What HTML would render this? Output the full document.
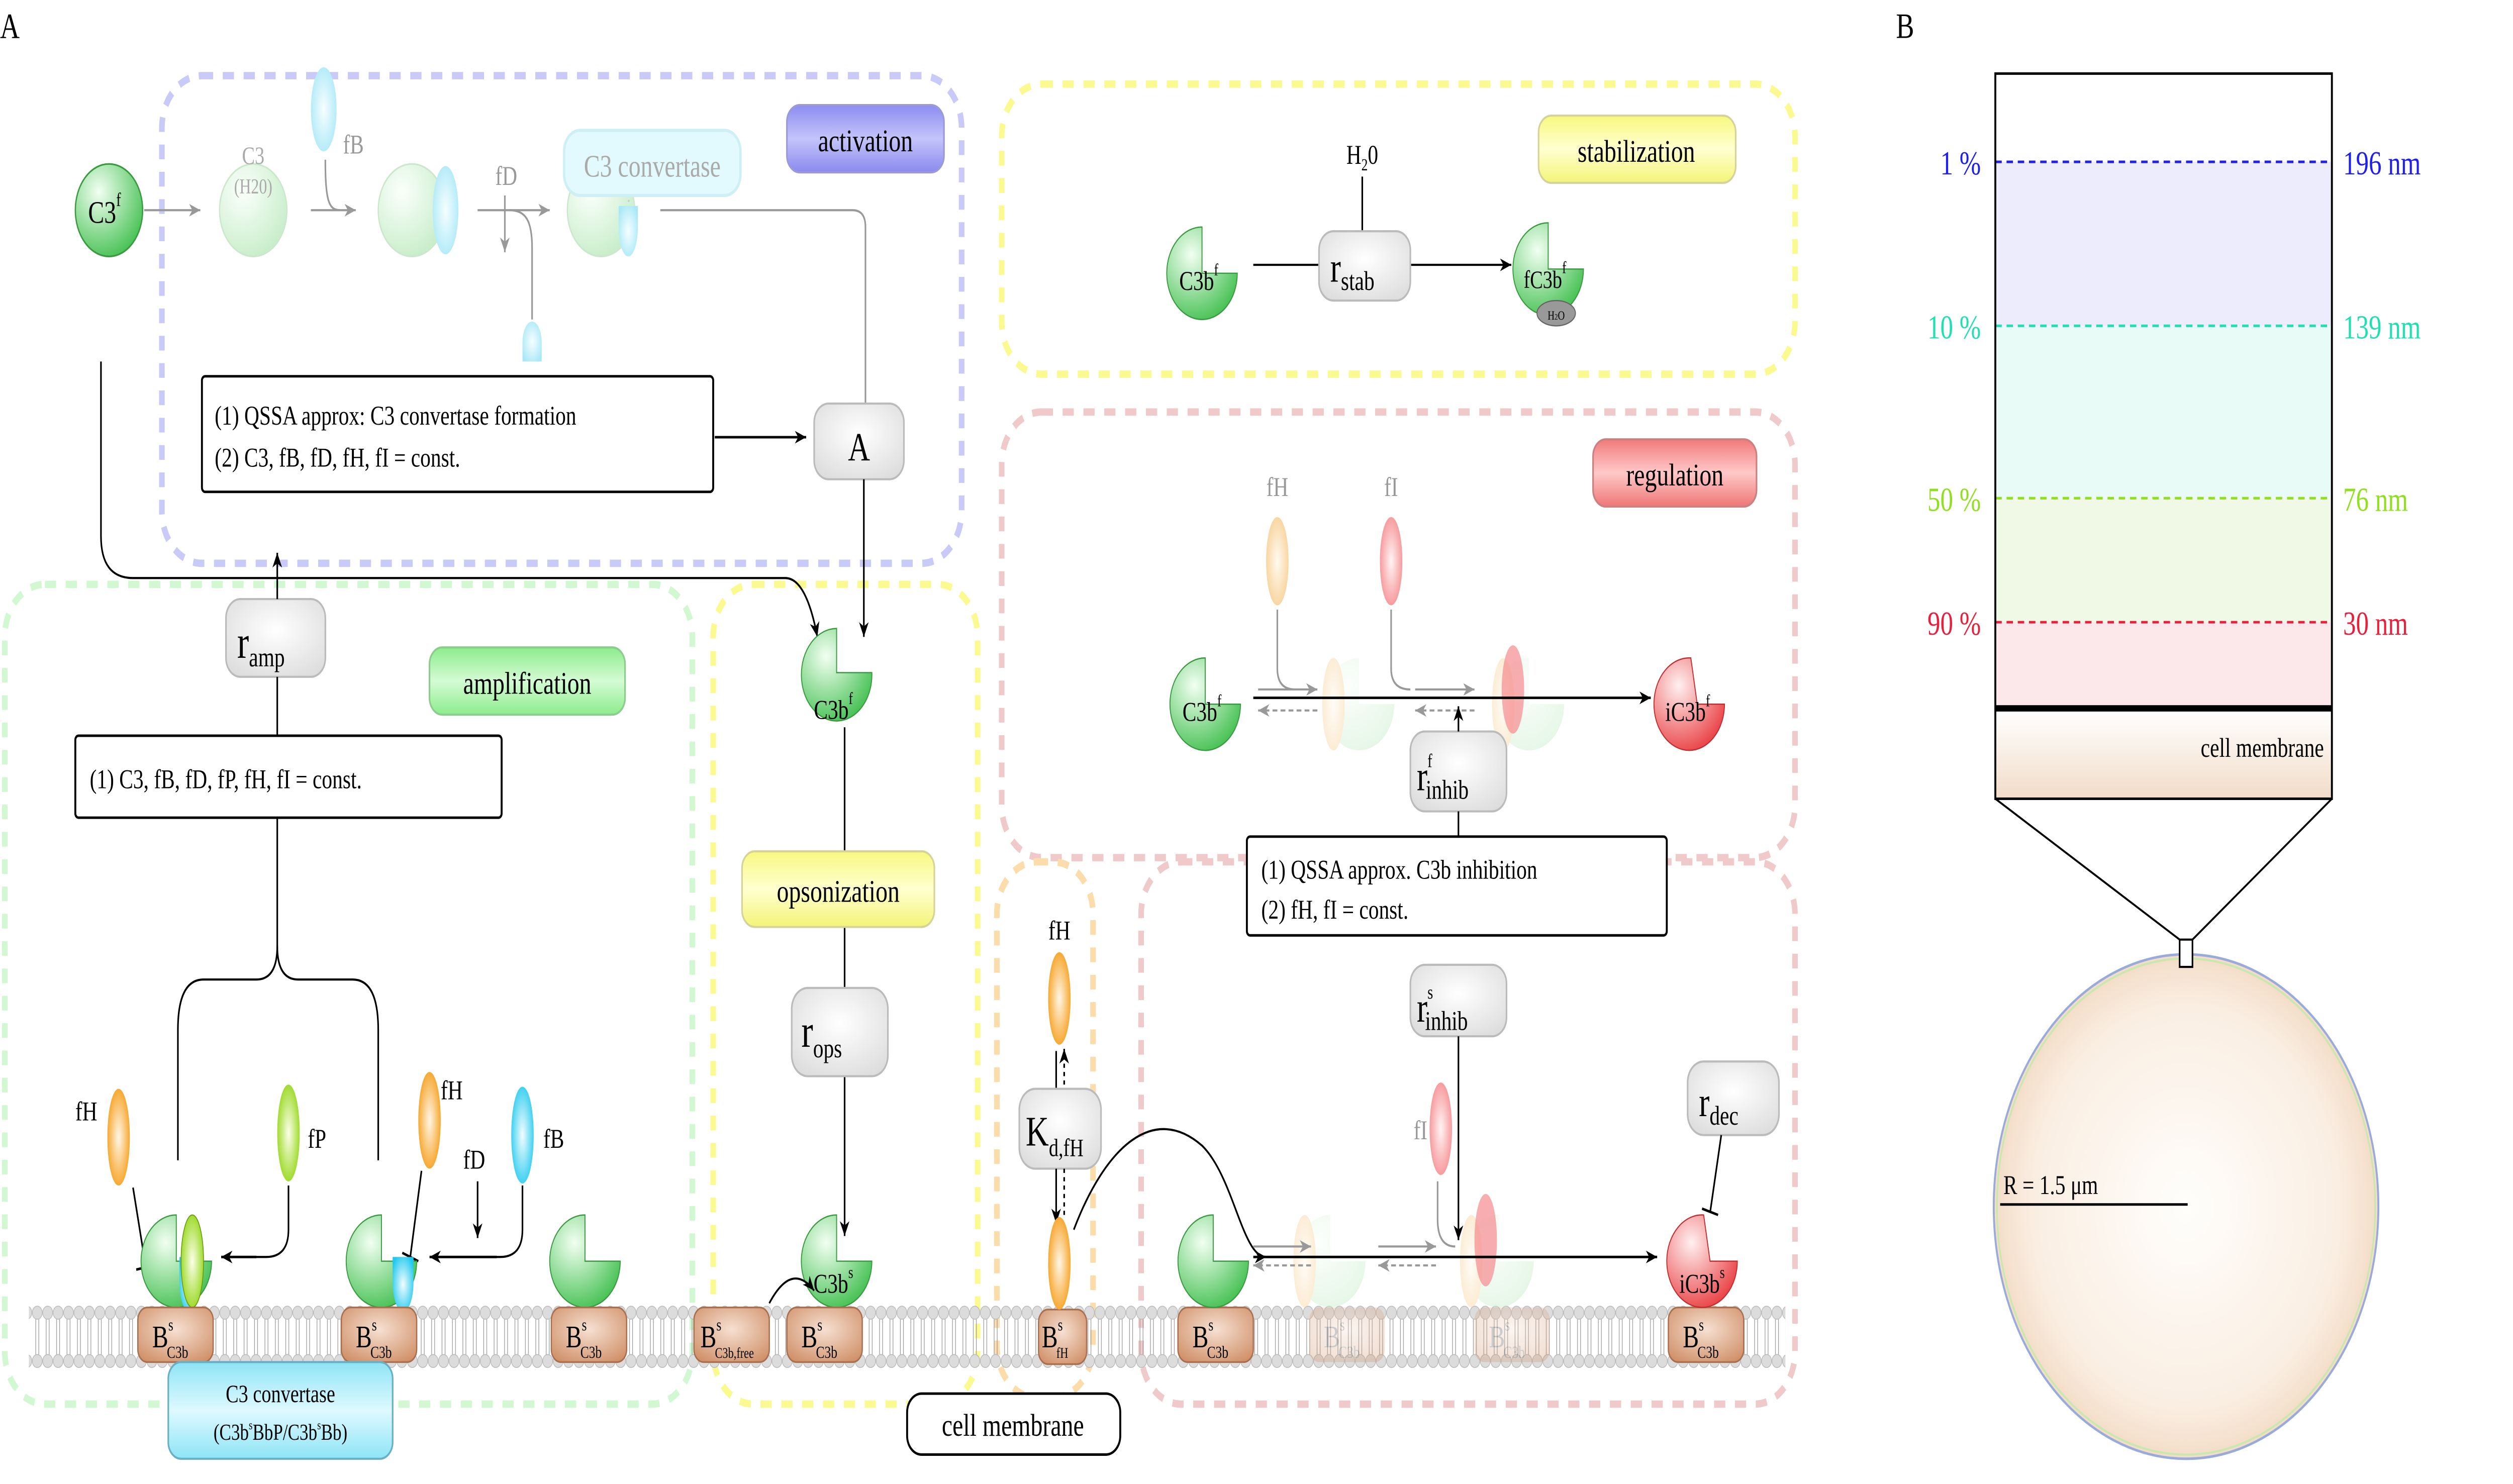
<!DOCTYPE html>
<html><head><meta charset="utf-8"><style>
html,body{margin:0;padding:0;background:#fff;overflow:hidden;width:100%;height:100%;}
svg{display:block;position:absolute;left:0;top:0;width:100vw;height:100vh;}
text{font-family:"Liberation Serif",serif;}
</style></head><body>
<svg viewBox="0 0 1568 706" preserveAspectRatio="none" xmlns="http://www.w3.org/2000/svg">
<defs>
<radialGradient id="gG" cx="0.35" cy="0.3" r="0.8"><stop offset="0" stop-color="#f2fff2"/><stop offset="1" stop-color="#3cbd4a"/></radialGradient>
<radialGradient id="gL" cx="0.35" cy="0.3" r="0.8"><stop offset="0" stop-color="#fbfffb"/><stop offset="1" stop-color="#c4ecc6"/></radialGradient>
<radialGradient id="gO" cx="0.5" cy="0.5" r="0.6"><stop offset="0" stop-color="#fff6e6"/><stop offset="1" stop-color="#f59a10"/></radialGradient>
<radialGradient id="gOf" cx="0.5" cy="0.5" r="0.6"><stop offset="0" stop-color="#fffaf0"/><stop offset="1" stop-color="#f7cf92"/></radialGradient>
<radialGradient id="gP" cx="0.5" cy="0.5" r="0.6"><stop offset="0" stop-color="#fbffe8"/><stop offset="1" stop-color="#8fd40c"/></radialGradient>
<radialGradient id="gC" cx="0.5" cy="0.5" r="0.6"><stop offset="0" stop-color="#f2fdff"/><stop offset="1" stop-color="#1ec8ee"/></radialGradient>
<radialGradient id="gCf" cx="0.5" cy="0.5" r="0.6"><stop offset="0" stop-color="#f6feff"/><stop offset="1" stop-color="#a8e8f7"/></radialGradient>
<radialGradient id="gR" cx="0.35" cy="0.3" r="0.8"><stop offset="0" stop-color="#fff0f0"/><stop offset="1" stop-color="#e8383c"/></radialGradient>
<radialGradient id="gRl" cx="0.5" cy="0.5" r="0.6"><stop offset="0" stop-color="#fff4f4"/><stop offset="1" stop-color="#f58a8e"/></radialGradient>
<radialGradient id="gBr" cx="0.5" cy="0.4" r="0.7"><stop offset="0" stop-color="#f6e0d2"/><stop offset="1" stop-color="#d09068"/></radialGradient>
<radialGradient id="gBox" cx="0.5" cy="0.4" r="0.7"><stop offset="0" stop-color="#ffffff"/><stop offset="1" stop-color="#dcdcdc"/></radialGradient>
<linearGradient id="gAct" x1="0" y1="0" x2="0" y2="1"><stop offset="0" stop-color="#8c8cf0"/><stop offset="0.5" stop-color="#c4c4fb"/><stop offset="1" stop-color="#8a8aee"/></linearGradient>
<linearGradient id="gAmp" x1="0" y1="0" x2="0" y2="1"><stop offset="0" stop-color="#8cec8c"/><stop offset="0.5" stop-color="#d4fbd4"/><stop offset="1" stop-color="#8cec8c"/></linearGradient>
<linearGradient id="gYel" x1="0" y1="0" x2="0" y2="1"><stop offset="0" stop-color="#f8f880"/><stop offset="0.5" stop-color="#ffffd0"/><stop offset="1" stop-color="#f4f478"/></linearGradient>
<linearGradient id="gReg" x1="0" y1="0" x2="0" y2="1"><stop offset="0" stop-color="#f07a7a"/><stop offset="0.5" stop-color="#ffc8c8"/><stop offset="1" stop-color="#ee7676"/></linearGradient>
<linearGradient id="gConv" x1="0" y1="0" x2="0" y2="1"><stop offset="0" stop-color="#8ee4f6"/><stop offset="0.5" stop-color="#dff9ff"/><stop offset="1" stop-color="#8ee4f6"/></linearGradient>
<linearGradient id="gMem" x1="0" y1="0" x2="0" y2="1"><stop offset="0" stop-color="#ffffff"/><stop offset="1" stop-color="#f1dcc8"/></linearGradient>
<radialGradient id="gCell" cx="0.5" cy="0.5" r="0.5"><stop offset="0" stop-color="#fffefc"/><stop offset="0.8" stop-color="#faeee2"/><stop offset="1" stop-color="#f3dcc6"/></radialGradient>
<pattern id="mem" patternUnits="userSpaceOnUse" x="20" y="621" width="6.5" height="30">
<line x1="2.3" y1="6" x2="2.3" y2="24" stroke="#999" stroke-width="0.4"/><line x1="4.2" y1="6" x2="4.2" y2="24" stroke="#999" stroke-width="0.4"/>
<circle cx="3.25" cy="3.5" r="3.1" fill="#dcdcdc" stroke="#bbb" stroke-width="0.4"/>
<circle cx="3.25" cy="26.5" r="3.1" fill="#dcdcdc" stroke="#bbb" stroke-width="0.4"/>
</pattern>
<marker id="ab" markerWidth="8" markerHeight="8" refX="7" refY="4" orient="auto" markerUnits="userSpaceOnUse"><path d="M0,1 L7,4 L0,7 L2,4Z" fill="#000"/></marker>
<marker id="ag" markerWidth="8" markerHeight="8" refX="7" refY="4" orient="auto" markerUnits="userSpaceOnUse"><path d="M0,1 L7,4 L0,7 L2,4Z" fill="#999"/></marker>
</defs>

<text x="0" y="18" font-family="Liberation Sans" font-size="17">A</text>
<text x="1183" y="18" font-family="Liberation Sans" font-size="17">B</text>

<g fill="none" stroke-width="3.5" stroke-dasharray="7,6">
<rect x="101" y="36" width="499" height="232" rx="25" stroke="#cacaf8"/>
<rect x="625" y="40" width="495" height="138" rx="25" stroke="#fafa90"/>
<rect x="625" y="196" width="495" height="212" rx="25" stroke="#f0caca"/>
<rect x="3" y="278" width="429" height="390" rx="25" stroke="#d2f8d2"/>
<rect x="445" y="278" width="165" height="390" rx="25" stroke="#fafa90"/>
<rect x="622" y="410" width="60" height="255" rx="25" stroke="#fbdcaa"/>
<rect x="712" y="410" width="408" height="258" rx="25" stroke="#f0caca"/>
</g>

<rect x="18" y="621" width="1096" height="30" fill="url(#mem)"/>

<ellipse cx="68" cy="100" rx="21" ry="22" fill="url(#gG)" stroke="#3a9a40" stroke-width="0.8"/>
<text x="55" y="106" font-size="15">C3<tspan font-size="9" dy="-8">f</tspan></text>
<line x1="90" y1="100" x2="125" y2="100" stroke="#999" stroke-width="1" marker-end="url(#ag)"/>
<ellipse cx="158" cy="100" rx="21" ry="22" fill="url(#gL)" stroke="#cce8cc" stroke-width="0.8"/>
<text x="158" y="78" font-size="12" fill="#aaa" text-anchor="middle">C3</text>
<text x="158" y="92" font-size="10" fill="#aaa" text-anchor="middle">(H20)</text>
<ellipse cx="202" cy="52" rx="8" ry="20" fill="url(#gCf)"/>
<text x="214" y="73" font-size="13" fill="#999">fB</text>
<path d="M203,76 C203,95 205,100 212,100" fill="none" stroke="#999" stroke-width="1"/>
<line x1="194" y1="100" x2="222" y2="100" stroke="#999" stroke-width="1" marker-end="url(#ag)"/>
<ellipse cx="257" cy="100" rx="21" ry="22" fill="url(#gL)" stroke="#cce8cc" stroke-width="0.8"/>
<ellipse cx="278" cy="100" rx="8" ry="21" fill="url(#gCf)"/>
<line x1="298" y1="100" x2="343" y2="100" stroke="#999" stroke-width="1" marker-end="url(#ag)"/>
<text x="309" y="88" font-size="13" fill="#999">fD</text>
<line x1="315" y1="93" x2="315" y2="120" stroke="#999" stroke-width="1" marker-end="url(#ag)"/>
<path d="M318,100 C328,100 332,105 332,118 L332,152" fill="none" stroke="#999" stroke-width="1"/>
<path d="M326,172 L326,163 A6,10 0 0 1 338,163 L338,172Z" fill="url(#gCf)"/>
<ellipse cx="375" cy="100" rx="21" ry="22" fill="url(#gL)" stroke="#cce8cc" stroke-width="0.8"/>
<path d="M386,98 L398,98 L398,108 A6,14 0 0 1 386,108Z" fill="url(#gCf)"/>
<line x1="392" y1="96" x2="402" y2="80" stroke="#ccc" stroke-dasharray="1,2"/>
<rect x="352" y="62" width="110" height="31" rx="10" fill="#e2f9fd" stroke="#cfeff6" stroke-width="1.5"/>
<text x="407" y="84" font-size="15" fill="#aaa" text-anchor="middle">C3 convertase</text>
<path d="M412,100 L532,100 Q540,100 540,108 L540,193" fill="none" stroke="#999" stroke-width="1"/>
<rect x="491" y="50" width="98" height="32" rx="8" fill="url(#gAct)" stroke="#9a9ad8" stroke-width="1"/>
<text x="540" y="72" font-size="15" text-anchor="middle">activation</text>
<rect x="126" y="179" width="319" height="55" rx="2" fill="#fff" stroke="#000" stroke-width="1.2"/>
<text x="134" y="202" font-size="13">(1) QSSA approx: C3 convertase formation</text>
<text x="134" y="222" font-size="13">(2) C3, fB, fD, fH, fI = const.</text>
<line x1="446" y1="208" x2="503" y2="208" stroke="#000" stroke-width="1.2" marker-end="url(#ab)"/>
<rect x="508" y="192" width="56" height="36" rx="9" fill="url(#gBox)" stroke="#bbb" stroke-width="1"/>
<text x="536" y="219" font-size="19" text-anchor="middle">A</text>
<line x1="539" y1="228" x2="539" y2="303" stroke="#000" stroke-width="1" marker-end="url(#ab)"/>
<path d="M63,172 L63,255 Q63,275 83,275 L490,275 Q503,275 510,303" fill="none" stroke="#000" stroke-width="1" marker-end="url(#ab)"/>

<path d="M522,299 L522,320 L544,320 A22,22 0 1 1 522,299Z" fill="url(#gG)" stroke="#3a9a40" stroke-width="0.6"/>
<text x="520" y="342" font-size="13" text-anchor="middle">C3b<tspan font-size="8" dy="-7">f</tspan></text>
<line x1="527" y1="346" x2="527" y2="588" stroke="#000" stroke-width="1" marker-end="url(#ab)"/>
<rect x="463" y="405" width="120" height="36" rx="8" fill="url(#gYel)" stroke="#d4d49a" stroke-width="1"/>
<text x="523" y="429" font-size="15" text-anchor="middle">opsonization</text>
<rect x="494" y="470" width="60" height="42" rx="10" fill="url(#gBox)" stroke="#bbb" stroke-width="1"/>
<text x="500" y="498" font-size="22">r<tspan font-size="13" dy="5">ops</tspan></text>
<path d="M522,578 L522,600 L544,600 A22,22 0 1 1 522,578Z" fill="url(#gG)" stroke="#3a9a40" stroke-width="0.6"/>
<text x="520" y="615" font-size="13" text-anchor="middle">C3b<tspan font-size="8" dy="-7">s</tspan></text>
<path d="M480,620 Q494,600 508,614" fill="none" stroke="#000" stroke-width="1" marker-end="url(#ab)"/>

<rect x="141" y="285" width="62" height="37" rx="9" fill="url(#gBox)" stroke="#bbb" stroke-width="1"/>
<text x="148" y="313" font-size="22">r<tspan font-size="13" dy="4">amp</tspan></text>
<line x1="173" y1="285" x2="173" y2="263" stroke="#000" stroke-width="1" marker-end="url(#ab)"/>
<line x1="173" y1="322" x2="173" y2="350" stroke="#000" stroke-width="1"/>
<rect x="47" y="350" width="266" height="39" rx="2" fill="#fff" stroke="#000" stroke-width="1.2"/>
<text x="56" y="375" font-size="13">(1) C3, fB, fD, fP, fH, fI = const.</text>
<path d="M173,389 L173,450 Q173,466 160,466 L127,466 Q111,466 111,490 L111,552" fill="none" stroke="#000" stroke-width="1"/>
<path d="M173,450 Q173,466 186,466 L220,466 Q236,466 236,490 L236,552" fill="none" stroke="#000" stroke-width="1"/>
<rect x="268" y="308" width="122" height="32" rx="8" fill="url(#gAmp)" stroke="#8ccc8c" stroke-width="1"/>
<text x="329" y="330" font-size="15" text-anchor="middle">amplification</text>
<ellipse cx="74" cy="541" rx="7" ry="23" fill="url(#gO)"/>
<text x="47" y="533" font-size="13">fH</text>
<line x1="83" y1="565" x2="91" y2="603" stroke="#000" stroke-width="1"/><line x1="85" y1="604" x2="96" y2="602" stroke="#000" stroke-width="1.2"/>
<ellipse cx="180" cy="539" rx="7" ry="23" fill="url(#gP)"/>
<text x="192" y="546" font-size="13">fP</text>
<path d="M180,564 L180,585 Q180,598 166,598 L140,598" fill="none" stroke="#000" stroke-width="1"/>
<line x1="160" y1="598" x2="138" y2="598" stroke="#000" stroke-width="1.2" marker-end="url(#ab)"/>
<ellipse cx="268" cy="533" rx="7" ry="23" fill="url(#gO)"/>
<text x="275" y="523" font-size="13">fH</text>
<line x1="263" y1="557" x2="256" y2="598" stroke="#000" stroke-width="1"/><line x1="251" y1="596" x2="261" y2="600" stroke="#000" stroke-width="1.2"/>
<ellipse cx="326" cy="540" rx="7" ry="23" fill="url(#gC)"/>
<text x="339" y="546" font-size="13">fB</text>
<text x="289" y="556" font-size="13">fD</text>
<line x1="298" y1="562" x2="298" y2="589" stroke="#000" stroke-width="1" marker-end="url(#ab)"/>
<path d="M326,564 L326,585 Q326,598 312,598 L270,598" fill="none" stroke="#000" stroke-width="1"/>
<line x1="310" y1="598" x2="268" y2="598" stroke="#000" stroke-width="1.2" marker-end="url(#ab)"/>
<path d="M110,578 L110,600 L132,600 A22,22 0 1 1 110,578Z" fill="url(#gG)" stroke="#3a9a40" stroke-width="0.6"/>
<path d="M112,598 L124,598 L124,610 A6,14 0 0 1 112,610Z" fill="url(#gC)"/>
<ellipse cx="120" cy="600" rx="7" ry="22" fill="url(#gP)" stroke="#6a9a10" stroke-width="0.5"/>
<path d="M238,578 L238,600 L260,600 A22,22 0 1 1 238,578Z" fill="url(#gG)" stroke="#3a9a40" stroke-width="0.6"/>
<path d="M245,598 L258,598 L258,610 A6.5,14 0 0 1 245,610Z" fill="url(#gC)"/>
<path d="M365,578 L365,600 L387,600 A22,22 0 1 1 365,578Z" fill="url(#gG)" stroke="#3a9a40" stroke-width="0.6"/>

<g font-size="15">
<rect x="86" y="622" width="47" height="26" rx="6" fill="url(#gBr)" stroke="#a87050" stroke-width="0.8"/>
<text x="95" y="641">B<tspan font-size="8" dy="-8">s</tspan><tspan font-size="8" dx="-4" dy="13">C3b</tspan></text>
<rect x="213" y="622" width="47" height="26" rx="6" fill="url(#gBr)" stroke="#a87050" stroke-width="0.8"/>
<text x="222" y="641">B<tspan font-size="8" dy="-8">s</tspan><tspan font-size="8" dx="-4" dy="13">C3b</tspan></text>
<rect x="344" y="622" width="47" height="26" rx="6" fill="url(#gBr)" stroke="#a87050" stroke-width="0.8"/>
<text x="353" y="641">B<tspan font-size="8" dy="-8">s</tspan><tspan font-size="8" dx="-4" dy="13">C3b</tspan></text>
<rect x="433" y="622" width="47" height="26" rx="6" fill="url(#gBr)" stroke="#a87050" stroke-width="0.8"/>
<text x="437" y="641">B<tspan font-size="8" dy="-8">s</tspan><tspan font-size="7" dx="-4" dy="13">C3b,free</tspan></text>
<rect x="491" y="622" width="47" height="26" rx="6" fill="url(#gBr)" stroke="#a87050" stroke-width="0.8"/>
<text x="500" y="641">B<tspan font-size="8" dy="-8">s</tspan><tspan font-size="8" dx="-4" dy="13">C3b</tspan></text>
<rect x="648" y="623" width="30" height="26" rx="6" fill="url(#gBr)" stroke="#a87050" stroke-width="0.8"/>
<text x="650" y="641">B<tspan font-size="8" dy="-8">s</tspan><tspan font-size="7" dx="-4" dy="13">fH</tspan></text>
<rect x="735" y="622" width="47" height="26" rx="6" fill="url(#gBr)" stroke="#a87050" stroke-width="0.8"/>
<text x="744" y="641">B<tspan font-size="8" dy="-8">s</tspan><tspan font-size="8" dx="-4" dy="13">C3b</tspan></text>
<g opacity="0.3">
<rect x="817" y="622" width="47" height="26" rx="6" fill="url(#gBr)"/>
<text x="826" y="641" fill="#555">B<tspan font-size="8" dy="-8">s</tspan><tspan font-size="8" dx="-4" dy="13">C3b</tspan></text>
<rect x="920" y="622" width="47" height="26" rx="6" fill="url(#gBr)"/>
<text x="929" y="641" fill="#555">B<tspan font-size="8" dy="-8">s</tspan><tspan font-size="8" dx="-4" dy="13">C3b</tspan></text>
</g>
<rect x="1041" y="622" width="47" height="26" rx="6" fill="url(#gBr)" stroke="#a87050" stroke-width="0.8"/>
<text x="1050" y="641">B<tspan font-size="8" dy="-8">s</tspan><tspan font-size="8" dx="-4" dy="13">C3b</tspan></text>
</g>

<rect x="105" y="648" width="140" height="46" rx="8" fill="url(#gConv)" stroke="#6ab0c4" stroke-width="1"/>
<text x="175" y="667" font-size="12" text-anchor="middle">C3 convertase</text>
<text x="175" y="685" font-size="11" text-anchor="middle">(C3b<tspan font-size="6" dy="-5">s</tspan><tspan dy="5">BbP/C3b</tspan><tspan font-size="6" dy="-5">s</tspan><tspan dy="5">Bb)</tspan></text>
<rect x="566" y="663" width="133" height="29" rx="9" fill="#fff" stroke="#000" stroke-width="1.2"/>
<text x="632" y="683" font-size="15" text-anchor="middle">cell membrane</text>

<text x="661" y="447" font-size="13" text-anchor="middle">fH</text>
<ellipse cx="661" cy="475" rx="7" ry="22" fill="url(#gO)"/>
<line x1="659" y1="520" x2="659" y2="500" stroke="#000" stroke-width="1"/>
<line x1="664" y1="520" x2="664" y2="499" stroke="#000" stroke-width="1" stroke-dasharray="2,2" marker-end="url(#ab)"/>
<rect x="636" y="518" width="51" height="38" rx="10" fill="url(#gBox)" stroke="#bbb" stroke-width="1"/>
<text x="640" y="545" font-size="20">K<tspan font-size="12" dy="5">d,fH</tspan></text>
<line x1="659" y1="556" x2="659" y2="582" stroke="#000" stroke-width="1" marker-end="url(#ab)"/>
<line x1="664" y1="556" x2="664" y2="580" stroke="#000" stroke-width="1" stroke-dasharray="2,2"/>
<ellipse cx="661" cy="601" rx="7" ry="22" fill="url(#gO)"/>
<path d="M670,585 C690,545 720,525 750,545 C770,560 775,598 790,598" fill="none" stroke="#000" stroke-width="1" marker-end="url(#ab)"/>

<path d="M757,578 L757,600 L779,600 A22,22 0 1 1 757,578Z" fill="url(#gG)" stroke="#3a9a40" stroke-width="0.6"/>
<g opacity="0.45">
<path d="M830,578 L830,600 L852,600 A22,22 0 1 1 830,578Z" fill="url(#gL)"/>
<ellipse cx="814" cy="600" rx="7" ry="22" fill="url(#gOf)"/>
<path d="M935,578 L935,600 L957,600 A22,22 0 1 1 935,578Z" fill="url(#gL)"/>
<ellipse cx="918" cy="600" rx="7" ry="22" fill="url(#gOf)"/>
</g>
<ellipse cx="927" cy="590" rx="7" ry="22" fill="#f58a8e" opacity="0.7"/>
<line x1="782" y1="593" x2="818" y2="593" stroke="#999" stroke-width="1" marker-end="url(#ag)"/>
<line x1="818" y1="602" x2="782" y2="602" stroke="#999" stroke-width="1" stroke-dasharray="3,2" marker-end="url(#ag)"/>
<line x1="860" y1="593" x2="896" y2="593" stroke="#999" stroke-width="1" marker-end="url(#ag)"/>
<line x1="896" y1="602" x2="860" y2="602" stroke="#999" stroke-width="1" stroke-dasharray="3,2" marker-end="url(#ag)"/>
<line x1="782" y1="598" x2="1034" y2="598" stroke="#000" stroke-width="1.2" marker-end="url(#ab)"/>
<path d="M1063,578 L1067,600 L1084,600 A22,22 0 1 1 1063,578Z" fill="url(#gR)" stroke="#c03030" stroke-width="0.6"/>
<text x="1062" y="615" font-size="13" text-anchor="middle">iC3b<tspan font-size="8" dy="-7">s</tspan></text>
<rect x="880" y="459" width="60" height="34" rx="9" fill="url(#gBox)" stroke="#bbb" stroke-width="1"/>
<text x="884" y="486" font-size="20">r<tspan font-size="9" dy="-11">s</tspan><tspan font-size="13" dx="-5" dy="15">inhib</tspan></text>
<line x1="910" y1="493" x2="910" y2="590" stroke="#000" stroke-width="1" marker-end="url(#ab)"/>
<text x="882" y="542" font-size="13" fill="#999">fI</text>
<ellipse cx="899" cy="537" rx="7" ry="22" fill="url(#gRl)"/>
<path d="M897,562 L897,580 Q897,593 908,593" fill="none" stroke="#999" stroke-width="1"/>
<rect x="1053" y="505" width="57" height="35" rx="10" fill="url(#gBox)" stroke="#bbb" stroke-width="1"/>
<text x="1060" y="531" font-size="20">r<tspan font-size="13" dy="4">dec</tspan></text>
<line x1="1074" y1="540" x2="1067" y2="577" stroke="#000" stroke-width="1"/><line x1="1062" y1="575" x2="1072" y2="578" stroke="#000" stroke-width="1.2"/>

<path d="M750,108 L750,130 L772,130 A22,22 0 1 1 750,108Z" fill="url(#gG)" stroke="#3a9a40" stroke-width="0.6"/>
<text x="748" y="138" font-size="13" text-anchor="middle">C3b<tspan font-size="8" dy="-7">f</tspan></text>
<line x1="782" y1="126" x2="943" y2="126" stroke="#000" stroke-width="1" marker-end="url(#ab)"/>
<text x="850" y="78" font-size="13" text-anchor="middle">H<tspan font-size="8" dy="3">2</tspan><tspan dy="-3">0</tspan></text>
<line x1="850" y1="84" x2="850" y2="110" stroke="#000" stroke-width="1"/>
<rect x="823" y="110" width="57" height="33" rx="9" fill="url(#gBox)" stroke="#bbb" stroke-width="1"/>
<text x="830" y="134" font-size="20">r<tspan font-size="13" dy="4">stab</tspan></text>
<path d="M966,106 L966,128 L988,128 A22,22 0 1 1 966,106Z" fill="url(#gG)" stroke="#3a9a40" stroke-width="0.6"/>
<text x="964" y="137" font-size="12" text-anchor="middle">fC3b<tspan font-size="8" dy="-7">f</tspan></text>
<ellipse cx="971" cy="149" rx="12" ry="6" fill="#999" stroke="#666" stroke-width="0.6"/>
<text x="971" y="152" font-size="6" text-anchor="middle">H<tspan font-size="4">2</tspan>O</text>
<rect x="960" y="55" width="123" height="32" rx="8" fill="url(#gYel)" stroke="#d4d49a" stroke-width="1"/>
<text x="1021" y="77" font-size="15" text-anchor="middle">stabilization</text>

<rect x="994" y="209" width="102" height="32" rx="8" fill="url(#gReg)" stroke="#cc8080" stroke-width="1"/>
<text x="1045" y="231" font-size="15" text-anchor="middle">regulation</text>
<text x="797" y="236" font-size="13" fill="#999" text-anchor="middle">fH</text>
<ellipse cx="797" cy="267" rx="7" ry="21" fill="url(#gOf)"/>
<path d="M797,290 L797,318 Q797,328 808,328" fill="none" stroke="#999" stroke-width="1"/>
<text x="868" y="236" font-size="13" fill="#999" text-anchor="middle">fI</text>
<ellipse cx="868" cy="267" rx="7" ry="21" fill="url(#gRl)"/>
<path d="M868,290 L868,318 Q868,328 880,328" fill="none" stroke="#999" stroke-width="1"/>
<path d="M752,313 L752,335 L774,335 A22,22 0 1 1 752,313Z" fill="url(#gG)" stroke="#3a9a40" stroke-width="0.6"/>
<text x="750" y="343" font-size="13" text-anchor="middle">C3b<tspan font-size="8" dy="-7">f</tspan></text>
<g opacity="0.45">
<path d="M848,313 L848,335 L870,335 A22,22 0 1 1 848,313Z" fill="url(#gL)"/>
<ellipse cx="832" cy="335" rx="7" ry="22" fill="url(#gOf)"/>
<path d="M954,313 L954,335 L976,335 A22,22 0 1 1 954,313Z" fill="url(#gL)"/>
<ellipse cx="938" cy="335" rx="7" ry="22" fill="url(#gOf)"/>
</g>
<ellipse cx="944" cy="328" rx="7" ry="21" fill="#f58a8e" opacity="0.7"/>
<line x1="785" y1="328" x2="822" y2="328" stroke="#999" stroke-width="1" marker-end="url(#ag)"/>
<line x1="822" y1="338" x2="785" y2="338" stroke="#999" stroke-width="1" stroke-dasharray="3,2" marker-end="url(#ag)"/>
<line x1="883" y1="328" x2="920" y2="328" stroke="#999" stroke-width="1" marker-end="url(#ag)"/>
<line x1="920" y1="338" x2="883" y2="338" stroke="#999" stroke-width="1" stroke-dasharray="3,2" marker-end="url(#ag)"/>
<line x1="782" y1="332" x2="1030" y2="332" stroke="#000" stroke-width="1.2" marker-end="url(#ab)"/>
<path d="M1055,313 L1059,335 L1076,335 A22,22 0 1 1 1055,313Z" fill="url(#gR)" stroke="#c03030" stroke-width="0.6"/>
<text x="1053" y="343" font-size="13" text-anchor="middle">iC3b<tspan font-size="8" dy="-7">f</tspan></text>
<rect x="880" y="348" width="60" height="38" rx="9" fill="url(#gBox)" stroke="#bbb" stroke-width="1"/>
<text x="884" y="376" font-size="20">r<tspan font-size="9" dy="-11">f</tspan><tspan font-size="13" dx="-4" dy="15">inhib</tspan></text>
<line x1="910" y1="348" x2="910" y2="336" stroke="#000" stroke-width="1" marker-end="url(#ab)"/>
<line x1="910" y1="386" x2="910" y2="398" stroke="#000" stroke-width="1"/>
<rect x="778" y="398" width="262" height="47" rx="2" fill="#fff" stroke="#000" stroke-width="1.2"/>
<text x="787" y="418" font-size="13">(1) QSSA approx. C3b inhibition</text>
<text x="787" y="437" font-size="13">(2) fH, fI = const.</text>

<rect x="1245" y="77" width="210" height="78" fill="#ececfc"/>
<rect x="1245" y="155" width="210" height="82" fill="#e8fbf7"/>
<rect x="1245" y="237" width="210" height="59" fill="#eff9e5"/>
<rect x="1245" y="296" width="210" height="41" fill="#fce8ea"/>
<rect x="1245" y="338" width="210" height="42" fill="url(#gMem)"/>
<line x1="1245" y1="77" x2="1455" y2="77" stroke="#2020ee" stroke-width="1.2" stroke-dasharray="4,3"/>
<line x1="1245" y1="155" x2="1455" y2="155" stroke="#20e0b0" stroke-width="1.2" stroke-dasharray="4,3"/>
<line x1="1245" y1="237" x2="1455" y2="237" stroke="#90e020" stroke-width="1.2" stroke-dasharray="4,3"/>
<line x1="1245" y1="296" x2="1455" y2="296" stroke="#e8203c" stroke-width="1.2" stroke-dasharray="4,3"/>
<line x1="1245" y1="337" x2="1455" y2="337" stroke="#000" stroke-width="3"/>
<rect x="1245" y="35" width="210" height="345" fill="none" stroke="#000" stroke-width="1.2"/>
<text x="1450" y="360" font-size="13" text-anchor="end">cell membrane</text>
<g font-size="16">
<text x="1236" y="83" text-anchor="end" fill="#2020ee">1 %</text><text x="1462" y="83" fill="#2020ee">196 nm</text>
<text x="1236" y="161" text-anchor="end" fill="#20e0b0">10 %</text><text x="1462" y="161" fill="#20e0b0">139 nm</text>
<text x="1236" y="243" text-anchor="end" fill="#90e020">50 %</text><text x="1462" y="243" fill="#90e020">76 nm</text>
<text x="1236" y="302" text-anchor="end" fill="#e8203c">90 %</text><text x="1462" y="302" fill="#e8203c">30 nm</text>
</g>
<line x1="1245" y1="380" x2="1360" y2="447" stroke="#000" stroke-width="1"/>
<line x1="1455" y1="380" x2="1368" y2="447" stroke="#000" stroke-width="1"/>
<circle cx="1364" cy="574" r="120" fill="url(#gCell)" stroke="#9ad" stroke-width="1.2"/>
<circle cx="1364" cy="574" r="118" fill="none" stroke="#c8e8b0" stroke-width="1"/>
<rect x="1360" y="447" width="8" height="13" fill="#fff" stroke="#000" stroke-width="1"/>
<line x1="1248" y1="573" x2="1365" y2="573" stroke="#000" stroke-width="1.2"/>
<text x="1250" y="568" font-size="13">R = 1.5 μm</text>
</svg>
</body></html>
